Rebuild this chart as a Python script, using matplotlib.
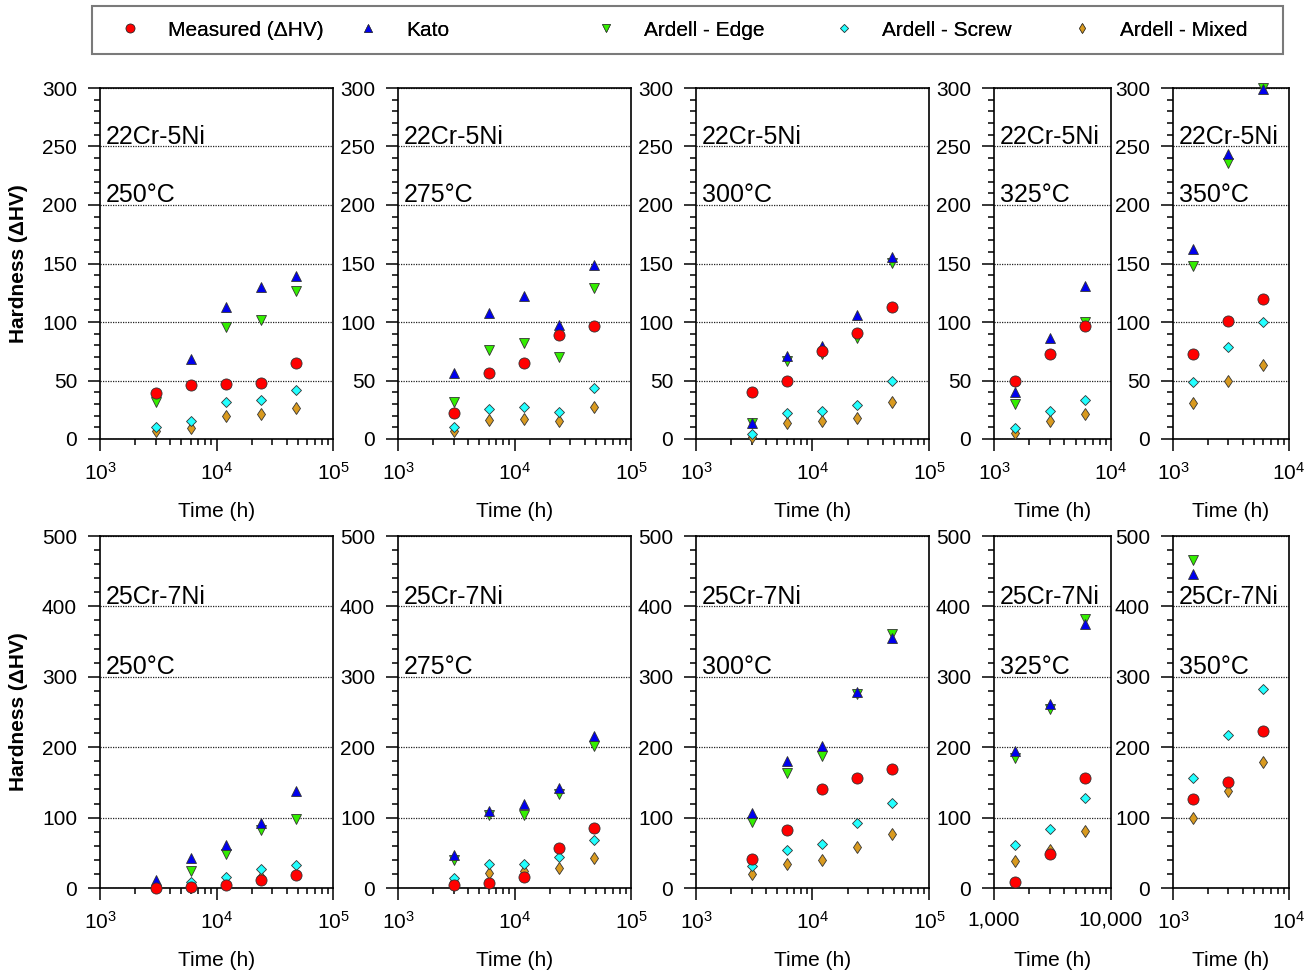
import numpy as np
import matplotlib
matplotlib.use("Agg")
import matplotlib.pyplot as plt
from matplotlib.lines import Line2D
from matplotlib.patches import Rectangle
from matplotlib.ticker import LogLocator, FixedLocator, FixedFormatter, NullFormatter

plt.rcParams['font.family'] = ['Liberation Sans', 'DejaVu Sans']
plt.rcParams['mathtext.fontset'] = 'custom'
plt.rcParams['mathtext.rm'] = 'Liberation Sans'

nan = np.nan

# ageing times (h)
t_long = [3000, 6000, 12000, 24000, 48000]
t_short = [1500, 3000, 6000]
temps = ['250°C', '275°C', '300°C', '325°C', '350°C']
alloys = ['22Cr-5Ni', '25Cr-7Ni']

# 22Cr-5Ni, one row per temperature
measured_22 = [[39, 46.5, 47, 47.5, 65], [22, 56.5, 65, 88.5, 96.5], [40, 50, 75.5, 91, 112.5],
               [50, 73, 97], [73, 101, 120]]
kato_22 = [[nan, 68, 112.5, 130, 139.5], [56.5, 108, 122, 97.5, 148.5], [14, 71, 79.5, 106, 155.5],
           [40, 86.5, 130.5], [162.5, 244, 299]]
edge_22 = [[31.5, nan, 95.5, 101.5, 126.5], [32, 76, 82, 70.5, 129], [14, 67, 72.5, 86, 150.5],
           [30, nan, 100], [147.5, 235.5, 300]]
screw_22 = [[10, 15, 32, 33.5, 42], [10.5, 25.5, 27.5, 23.5, 43.5], [4.5, 22, 24, 29, 50],
            [9.5, 24, 33], [49, 79, 100]]
mixed_22 = [[6.5, 9.5, 20, 21.5, 26.5], [6.5, 16, 17, 15, 27.5], [2, 14, 15.5, 18, 32],
            [5.5, 15.5, 21], [31, 50, 63]]

# 25Cr-7Ni
measured_25 = [[0.5, 1.5, 4, 11.5, 18], [4.5, 7, 16, 57.5, 85], [41, 82, 140, 156, 169],
               [8, 48, 156.5], [127, 150, 223]]
kato_25 = [[11, 43, 61, 92.5, 138], [47.5, 110, 119, 142, 216], [107, 180.5, 202, 279, 354.5],
           [195, 261, 374.5], [446.5, nan, nan]]
edge_25 = [[nan, 24.5, 49, 82, 98], [39.5, 103, 104, 134, 201.5], [93.5, 164, 187, 275.5, 361],
           [184, 254, 381.5], [466.5, nan, nan]]
screw_25 = [[nan, 8, 15.5, 27, 33], [13.5, 34.5, 34.5, 44.5, 67.5], [31, 54, 62.5, 92, 120.5],
            [61.5, 84.5, 127.5], [156, 217, 283]]
mixed_25 = [[nan, nan, nan, 16, nan], [9.5, 22, 23.5, 28.5, 42.5], [19.5, 34.5, 39.5, 58, 76],
            [38.5, 54.5, 80.5], [99, 138, 179.5]]

labels = ['Measured (ΔHV)', 'Kato', 'Ardell - Edge', 'Ardell - Screw', 'Ardell - Mixed']
colors = ['#ff0000', '#0000ee', '#33ee00', '#22ffff', '#d99a1f']
markers = ['o', '^', 'v', 'D', 'd']
msizes = [8.0, 6.8, 6.8, 5.4, 6.3]

W, H = 1311, 975
fig = plt.figure(figsize=(W / 100, H / 100), dpi=100)

cols_px = [(100, 333), (398, 631), (696, 929), (994, 1111), (1173, 1289)]
rows_px = [(88, 439), (536, 888)]


def style_axis(ax, ymax, ystep, short, thousands=False):
    ax.set_xscale('log')
    ax.set_xlim(1e3, 1e4 if short else 1e5)
    ax.set_ylim(0, ymax)
    ax.set_yticks(np.arange(0, ymax + 1, ystep))
    ax.yaxis.set_minor_locator(FixedLocator(np.arange(0, ymax + 1, ystep / 5)))
    ax.xaxis.set_minor_locator(LogLocator(base=10, subs=np.arange(2, 10)))
    ax.xaxis.set_minor_formatter(NullFormatter())
    if thousands:
        ax.xaxis.set_major_locator(FixedLocator([1e3, 1e4]))
        ax.xaxis.set_major_formatter(FixedFormatter(['1,000', '10,000']))
    else:
        decs = [3, 4] if short else [3, 4, 5]
        ax.xaxis.set_major_locator(FixedLocator([10.0 ** d for d in decs]))
        ax.xaxis.set_major_formatter(FixedFormatter([r'$\mathregular{10^{%d}}$' % d for d in decs]))
    ax.tick_params(which='both', direction='out', width=1.1, labelsize=15, pad=8,
                   top=False, right=False)
    ax.tick_params(which='major', length=8.5)
    ax.tick_params(which='minor', length=4.3)
    for s in ax.spines.values():
        s.set_linewidth(1.2)
    ax.yaxis.grid(True, which='major', linestyle=(0, (1, 1)), color='#222222', linewidth=0.9)
    ax.set_axisbelow(True)
    ax.set_xlabel('Time (h)', fontsize=15)
    ax.xaxis.set_label_coords(0.5, -0.18)


series_sets = [
    [measured_22, kato_22, edge_22, screw_22, mixed_22],
    [measured_25, kato_25, edge_25, screw_25, mixed_25],
]

for r, (top, bot) in enumerate(rows_px):
    ymax, ystep = (300, 50) if r == 0 else (500, 100)
    for c, (left, right) in enumerate(cols_px):
        ax = fig.add_axes([left / W, 1 - bot / H, (right - left) / W, (bot - top) / H])
        short = c >= 3
        style_axis(ax, ymax, ystep, short, thousands=(r == 1 and c == 3))
        t = t_short if short else t_long
        # draw back to front so measured values sit on top
        for k in [4, 3, 2, 1, 0]:
            ax.plot(t, series_sets[r][k][c], linestyle='none', marker=markers[k],
                    markersize=msizes[k], markerfacecolor=colors[k],
                    markeredgecolor='#333333', markeredgewidth=0.6,
                    clip_on=False, zorder=3 + (4 - k))
        y1, y2 = (250, 200) if r == 0 else (400, 300)
        ax.annotate(alloys[r], xy=(0, y1), xycoords=ax.get_yaxis_transform(),
                    xytext=(4, 2), textcoords='offset points', fontsize=18, va='baseline')
        ax.annotate(temps[c], xy=(0, y2), xycoords=ax.get_yaxis_transform(),
                    xytext=(4, 2), textcoords='offset points', fontsize=18, va='baseline')
        if c == 0:
            ax.set_ylabel('Hardness (ΔHV)', fontsize=15, fontweight='bold')
            ax.yaxis.set_label_coords(-0.31, 0.5)

# legend box across the top
fig.patches.append(Rectangle((92 / W, 1 - 54 / H), (1283 - 92) / W, 48 / H,
                             transform=fig.transFigure, fill=False,
                             edgecolor='#7a7a7a', linewidth=1.5))
fs = 15 * 100 / 72
for k in range(5):
    h = Line2D([], [], linestyle='none', marker=markers[k], markersize=msizes[k] * 0.8,
               markerfacecolor=colors[k], markeredgecolor='#333333', markeredgewidth=0.5)
    mx = 130 + 238 * k
    leg = fig.legend([h], [labels[k]], loc='center left', frameon=False, fontsize=15,
                     handlelength=1.0, handletextpad=(38 - fs / 2) / fs, borderpad=0,
                     borderaxespad=0, bbox_to_anchor=((mx - fs / 2) / W, 1 - 30 / H))
    fig.add_artist(leg)

fig.savefig('out.png', dpi=100)
